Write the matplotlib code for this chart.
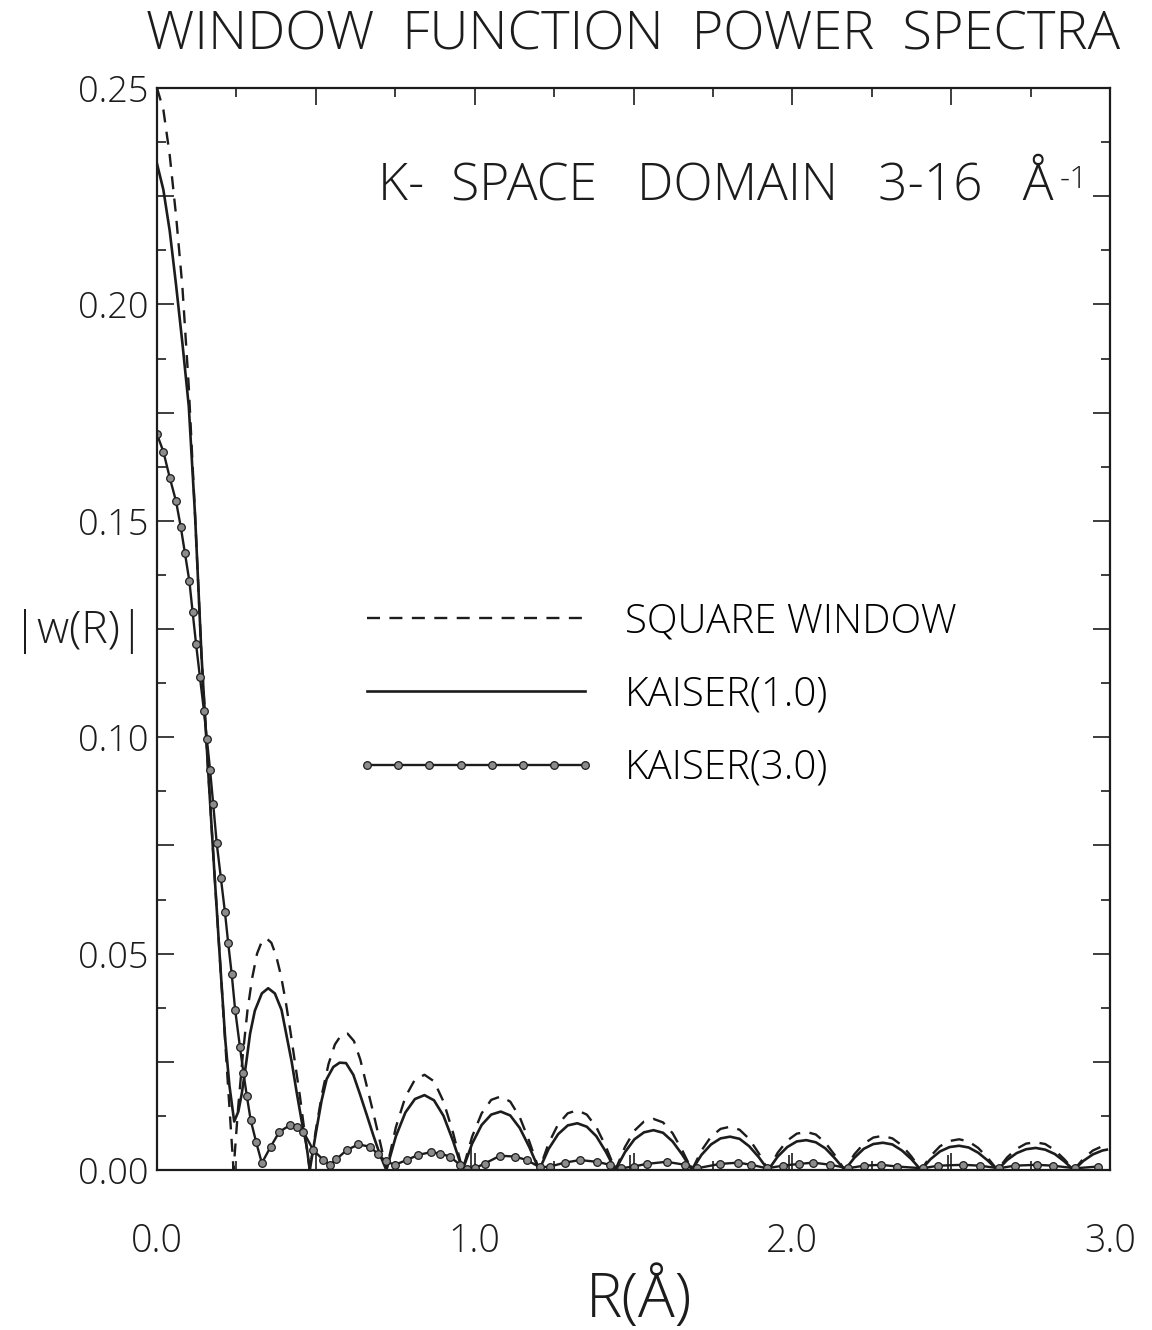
import matplotlib
matplotlib.use("Agg")
import matplotlib.pyplot as plt

# ---------------- data ----------------
# |w(R)| for a square window over k = 3-16 1/Angstrom
square_r = [0.000, 0.020, 0.040, 0.060, 0.080, 0.100, 0.120, 0.140, 0.160, 0.180, 0.200, 0.220, 0.241,
            0.255, 0.270, 0.285, 0.300, 0.315, 0.330, 0.345, 0.360, 0.375, 0.390, 0.405, 0.420, 0.435, 0.450, 0.465, 0.481,
            0.500, 0.520, 0.540, 0.560, 0.580, 0.600, 0.620, 0.640, 0.660, 0.680, 0.700, 0.722,
            0.752, 0.782, 0.812, 0.842, 0.872, 0.902, 0.932, 0.962,
            0.992, 1.022, 1.052, 1.082, 1.112, 1.142, 1.172, 1.203,
            1.233, 1.263, 1.293, 1.323, 1.353, 1.383, 1.413, 1.443,
            1.473, 1.503, 1.533, 1.563, 1.593, 1.623, 1.653, 1.684,
            1.714, 1.744, 1.774, 1.804, 1.834, 1.864, 1.894, 1.924,
            1.954, 1.984, 2.014, 2.044, 2.074, 2.104, 2.134, 2.165,
            2.195, 2.225, 2.255, 2.285, 2.315, 2.345, 2.375, 2.405,
            2.435, 2.465, 2.495, 2.525, 2.555, 2.585, 2.615, 2.646,
            2.676, 2.706, 2.736, 2.766, 2.796, 2.826, 2.856, 2.886,
            2.916, 2.946, 2.976, 2.990]
square_w = [0.2500, 0.2450, 0.2345, 0.2205, 0.2040, 0.1810, 0.1510, 0.1190, 0.0935, 0.0695, 0.0465, 0.0235, 0.0000,
            0.0140, 0.0265, 0.0370, 0.0445, 0.0500, 0.0528, 0.0535, 0.0525, 0.0495, 0.0450, 0.0390, 0.0320, 0.0245, 0.0170, 0.0085, 0.0000,
            0.0092, 0.0178, 0.0245, 0.0290, 0.0312, 0.0315, 0.0298, 0.0255, 0.0195, 0.0135, 0.0072, 0.0000,
            0.0099, 0.0169, 0.0209, 0.0220, 0.0205, 0.0158, 0.0086, 0.0000,
            0.0077, 0.0131, 0.0162, 0.0170, 0.0158, 0.0122, 0.0066, 0.0000,
            0.0062, 0.0106, 0.0131, 0.0138, 0.0128, 0.0099, 0.0054, 0.0000,
            0.0053, 0.0091, 0.0112, 0.0118, 0.0110, 0.0085, 0.0046, 0.0000,
            0.0045, 0.0077, 0.0095, 0.0100, 0.0093, 0.0072, 0.0039, 0.0000,
            0.0040, 0.0068, 0.0084, 0.0088, 0.0082, 0.0063, 0.0034, 0.0000,
            0.0036, 0.0061, 0.0075, 0.0079, 0.0073, 0.0057, 0.0031, 0.0000,
            0.0032, 0.0055, 0.0067, 0.0071, 0.0066, 0.0051, 0.0028, 0.0000,
            0.0029, 0.0049, 0.0061, 0.0064, 0.0060, 0.0046, 0.0025, 0.0000,
            0.0026, 0.0045, 0.0055, 0.0057]

# |w(R)| for a Kaiser window, tau = 1.0
kaiser1_r = [0.000, 0.020, 0.040, 0.060, 0.080, 0.100, 0.120, 0.140, 0.160, 0.180, 0.200, 0.215, 0.228, 0.243,
             0.256, 0.267, 0.282, 0.293, 0.308, 0.330, 0.350, 0.371, 0.392, 0.408, 0.424, 0.440, 0.455, 0.471, 0.481,
             0.500, 0.518, 0.534, 0.555, 0.575, 0.595, 0.618, 0.639, 0.660, 0.681, 0.702, 0.722,
             0.752, 0.782, 0.812, 0.842, 0.872, 0.902, 0.932, 0.962,
             0.992, 1.022, 1.052, 1.082, 1.112, 1.142, 1.172, 1.203,
             1.233, 1.263, 1.293, 1.323, 1.353, 1.383, 1.413, 1.443,
             1.473, 1.503, 1.533, 1.563, 1.593, 1.623, 1.653, 1.684,
             1.714, 1.744, 1.774, 1.804, 1.834, 1.864, 1.894, 1.924,
             1.954, 1.984, 2.014, 2.044, 2.074, 2.104, 2.134, 2.165,
             2.195, 2.225, 2.255, 2.285, 2.315, 2.345, 2.375, 2.405,
             2.435, 2.465, 2.495, 2.525, 2.555, 2.585, 2.615, 2.646,
             2.676, 2.706, 2.736, 2.766, 2.796, 2.826, 2.856, 2.886,
             2.916, 2.946, 2.976, 2.990]
kaiser1_w = [0.2325, 0.2265, 0.2170, 0.2045, 0.1910, 0.1765, 0.1510, 0.1190, 0.0935, 0.0695, 0.0465, 0.0300, 0.0195, 0.0112,
             0.0135, 0.0177, 0.0254, 0.0315, 0.0368, 0.0408, 0.0420, 0.0408, 0.0370, 0.0310, 0.0250, 0.0178, 0.0115, 0.0055, 0.0000,
             0.0085, 0.0160, 0.0210, 0.0238, 0.0248, 0.0247, 0.0220, 0.0175, 0.0128, 0.0080, 0.0035, 0.0000,
             0.0078, 0.0133, 0.0164, 0.0173, 0.0161, 0.0125, 0.0067, 0.0000,
             0.0061, 0.0104, 0.0128, 0.0135, 0.0126, 0.0097, 0.0053, 0.0000,
             0.0049, 0.0083, 0.0103, 0.0108, 0.0100, 0.0078, 0.0042, 0.0000,
             0.0041, 0.0071, 0.0087, 0.0092, 0.0086, 0.0066, 0.0036, 0.0000,
             0.0035, 0.0059, 0.0073, 0.0077, 0.0072, 0.0055, 0.0030, 0.0000,
             0.0031, 0.0053, 0.0066, 0.0069, 0.0064, 0.0050, 0.0027, 0.0000,
             0.0028, 0.0049, 0.0060, 0.0063, 0.0059, 0.0045, 0.0025, 0.0000,
             0.0025, 0.0043, 0.0053, 0.0056, 0.0052, 0.0040, 0.0022, 0.0000,
             0.0023, 0.0039, 0.0048, 0.0051, 0.0047, 0.0037, 0.0020, 0.0000,
             0.0021, 0.0036, 0.0045, 0.0047]

# |w(R)| for a Kaiser window, tau = 3.0 (one sample per plotted symbol)
kaiser3_r = [0.000, 0.020, 0.040, 0.060, 0.075, 0.088, 0.102, 0.112, 0.123, 0.135, 0.148, 0.157, 0.167, 0.177,
             0.188, 0.201, 0.214, 0.224, 0.235, 0.246, 0.261, 0.272, 0.283, 0.295, 0.312, 0.330,
             0.358, 0.385, 0.419, 0.440, 0.461, 0.492, 0.524, 0.545, 0.565, 0.597, 0.634, 0.670, 0.697, 0.720,
             0.749, 0.786, 0.823, 0.861, 0.891, 0.922, 0.954, 0.975, 1.000, 1.032, 1.080, 1.127, 1.164, 1.206,
             1.237, 1.284, 1.331, 1.384, 1.426, 1.460, 1.500, 1.541, 1.604, 1.662, 1.700, 1.772, 1.830, 1.870,
             1.920, 1.970, 2.020, 2.066, 2.120, 2.175, 2.225, 2.280, 2.330, 2.410, 2.460, 2.538, 2.590, 2.650,
             2.700, 2.770, 2.820, 2.890, 2.963]
kaiser3_w = [0.1700, 0.1660, 0.1600, 0.1545, 0.1485, 0.1425, 0.1360, 0.1290, 0.1215, 0.1140, 0.1060, 0.0995, 0.0925, 0.0845,
             0.0755, 0.0675, 0.0595, 0.0525, 0.0454, 0.0370, 0.0285, 0.0225, 0.0170, 0.0115, 0.0065, 0.0016,
             0.0054, 0.0088, 0.0104, 0.0100, 0.0088, 0.0046, 0.0023, 0.0012, 0.0025, 0.0046, 0.0059, 0.0054, 0.0036, 0.0020,
             0.0012, 0.0023, 0.0035, 0.0041, 0.0038, 0.0031, 0.0012, 0.0003, 0.0004, 0.0015, 0.0033, 0.0031, 0.0023, 0.0006,
             0.0008, 0.0017, 0.0023, 0.0019, 0.0012, 0.0004, 0.0008, 0.0014, 0.0019, 0.0012, 0.0004, 0.0014, 0.0017, 0.0012,
             0.0004, 0.0010, 0.0014, 0.0017, 0.0012, 0.0004, 0.0010, 0.0012, 0.0008, 0.0004, 0.0010, 0.0012, 0.0010, 0.0004,
             0.0010, 0.0012, 0.0010, 0.0004, 0.0008]

# isolated single-sample glitches in the tau = 3.0 transform
glitch_r = [0.99, 1.49, 1.99, 2.49]
glitch_w = [0.0050, 0.0035, 0.0035, 0.0035]

series_labels = ["SQUARE WINDOW", "KAISER(1.0)", "KAISER(3.0)"]

x_major = [0.0, 0.5, 1.0, 1.5, 2.0, 2.5, 3.0]
x_major_labels = ["0.0", "", "1.0", "", "2.0", "", "3.0"]
x_minor = [0.25, 0.75, 1.25, 1.75, 2.25, 2.75]
y_major = [0.0, 0.025, 0.05, 0.075, 0.10, 0.125, 0.15, 0.175, 0.20, 0.225, 0.25]
y_major_labels = ["0.00", "", "0.05", "", "0.10", "", "0.15", "", "0.20", "", "0.25"]
y_minor = [0.0125, 0.0375, 0.0625, 0.0875, 0.1125, 0.1375, 0.1625, 0.1875, 0.2125, 0.2375]

title = "WINDOW  FUNCTION  POWER  SPECTRA"
domain_text = "K-  SPACE   DOMAIN   3-16   Å"
domain_sup = "-1"
x_label = "R(Å)"
y_label = "|w(R)|"

# ---------------- drawing ----------------
plt.rcParams["font.family"] = ["Open Sans", "DejaVu Sans"]
plt.rcParams["font.weight"] = "light"
ink = "#1c1c1c"
W, H = 1152, 1330

fig = plt.figure(figsize=(W / 100, H / 100), dpi=100)
fig.patch.set_facecolor("white")
ax = fig.add_axes([157 / W, 1 - 1170 / H, 953 / W, 1082 / H])

ax.plot(square_r, square_w, color=ink, lw=1.7, dashes=(5.5, 4), label=series_labels[0])
ax.plot(kaiser1_r, kaiser1_w, color=ink, lw=1.9, label=series_labels[1])
ax.vlines(glitch_r, 0, glitch_w, color=ink, lw=1.2)
ax.plot(kaiser3_r, kaiser3_w, color=ink, lw=1.7, marker="o", ms=5.5,
        mfc="#8c8c8c", mec=ink, mew=0.9, label=series_labels[2])

ax.set_xlim(0, 3.0)
ax.set_ylim(0, 0.25)
ax.set_xticks(x_major)
ax.set_xticklabels(x_major_labels)
ax.set_xticks(x_minor, minor=True)
ax.set_yticks(y_major)
ax.set_yticklabels(y_major_labels)
ax.set_yticks(y_minor, minor=True)
ax.tick_params(which="both", direction="in", top=True, right=True, width=1.2, colors=ink)
ax.tick_params(which="major", length=12)
ax.tick_params(which="minor", length=6.5)
ax.tick_params(axis="x", which="major", pad=38, labelsize=27)
ax.tick_params(axis="y", which="major", pad=6, labelsize=26)
for s in ax.spines.values():
    s.set_linewidth(1.6)
    s.set_color(ink)

leg = ax.legend(loc="center left", bbox_to_anchor=(0.208, 0.439), frameon=False,
                fontsize=29, handlelength=6.0, handletextpad=0.7, labelspacing=0.8,
                numpoints=8, borderpad=0, borderaxespad=0)

fig.text(633 / W, 1 - 36 / H, title, ha="center", va="center", fontsize=39, color=ink)
dom = fig.text(378 / W, 1 - 186 / H, domain_text, ha="left", va="center", fontsize=37, color=ink)
fig.text(78 / W, 1 - 632 / H, y_label, ha="center", va="center", fontsize=32, color=ink)
fig.text(639 / W, 1 - 1300 / H, x_label, ha="center", va="center", fontsize=44, color=ink)

fig.canvas.draw()
bb = dom.get_window_extent()
fig.text((bb.x1 + 6) / W, (bb.y1 - 4) / H, domain_sup, ha="left", va="top", fontsize=23, color=ink)

fig.savefig("out.png", dpi=100, facecolor="white")
